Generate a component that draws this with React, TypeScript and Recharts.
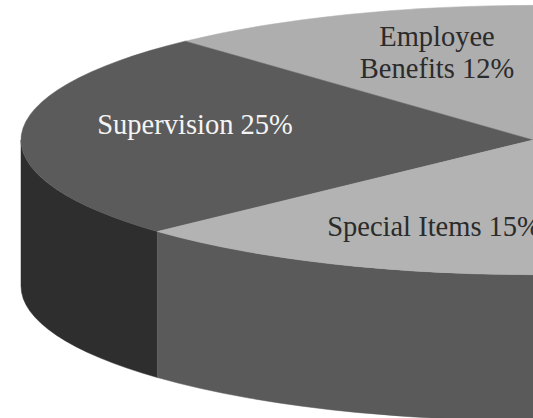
import { PieChart, Pie } from 'recharts';

const categories = ['Employee Benefits', 'Supervision', 'Special Items', 'Other'];
const shares = [12, 25, 15, 48];
const topColors = ['#aeaeae', '#5b5b5b', '#b3b3b3', '#b3b3b3'];
const wallColors = ['#5b5b5b', '#2e2e2e', '#5a5a5a', '#5a5a5a'];

// label lines per slice, the last slice runs off the page
const labelLines = [['Employee', 'Benefits 12%'], ['Supervision 25%'], ['Special Items 15%'], []];
const labelSpots = [
  { x: 437, y: 46, color: '#2b2b2b' },
  { x: 195, y: 134, color: '#f4f4f4' },
  { x: 434, y: 236, color: '#2b2b2b' },
  { x: 0, y: 0, color: '#000' },
];

const CX = 533;
const CY = 140;
const RX = 512;
const TILT = 134.7 / 512;
const DEPTH = 146;
const START = 89.6;

const topRows = categories.map((name, i) => ({ name, value: shares[i], fill: topColors[i] }));
const wallRows = categories.map((name, i) => ({ name, value: shares[i], fill: wallColors[i] }));

const point = (cx: number, cy: number, r: number, deg: number) => {
  const a = (deg * Math.PI) / 180;
  return [cx + r * Math.cos(a), cy - r * TILT * Math.sin(a)];
};

// Flattened slice
const TopSlice = (props: any) => {
  const { cx, cy, outerRadius: r, startAngle, endAngle, fill } = props;
  const [x0, y0] = point(cx, cy, r, startAngle);
  const [x1, y1] = point(cx, cy, r, endAngle);
  const large = Math.abs(endAngle - startAngle) > 180 ? 1 : 0;
  const d = `M${cx},${cy} L${x0},${y0} A${r},${r * TILT} 0 ${large} 0 ${x1},${y1} Z`;
  return <path d={d} fill={fill} stroke={fill} strokeWidth={0.5} />;
};

// Side wall, only the front half of the rim shows
const WallSlice = (props: any) => {
  const { cx, cy, outerRadius: r, startAngle, endAngle, fill } = props;
  const from = Math.max(startAngle, 180);
  const to = Math.min(endAngle, 360);
  if (to <= from) return null;
  const [x0, y0] = point(cx, cy, r, from);
  const [x1, y1] = point(cx, cy, r, to);
  const ry = r * TILT;
  const d = `M${x0},${y0} A${r},${ry} 0 0 0 ${x1},${y1} L${x1},${y1 + DEPTH} A${r},${ry} 0 0 1 ${x0},${y0 + DEPTH} Z`;
  return <path d={d} fill={fill} stroke={fill} strokeWidth={0.5} />;
};

const renderLabel = ({ index }: any) => {
  const lines = labelLines[index];
  const spot = labelSpots[index];
  if (!lines.length) return null;
  return (
    <text
      key={index}
      textAnchor="middle"
      fontFamily="'Liberation Serif', serif"
      fontSize={28.5}
      fill={spot.color}
    >
      {lines.map((line, i) => (
        <tspan key={line} x={spot.x} y={spot.y + i * 32}>
          {line}
        </tspan>
      ))}
    </text>
  );
};

export default function App() {
  return (
    <div style={{ position: 'absolute', left: 0, top: 0, width: 533, height: 418, overflow: 'hidden', background: '#fff' }}>
      <PieChart width={533} height={418} margin={{ top: 0, right: 0, bottom: 0, left: 0 }}>
        <Pie
          data={wallRows}
          dataKey="value"
          nameKey="name"
          cx={CX}
          cy={CY}
          outerRadius={RX}
          startAngle={START}
          endAngle={START + 360}
          shape={WallSlice}
          isAnimationActive={false}
        />
        <Pie
          data={topRows}
          dataKey="value"
          nameKey="name"
          cx={CX}
          cy={CY}
          outerRadius={RX}
          startAngle={START}
          endAngle={START + 360}
          shape={TopSlice}
          label={renderLabel}
          labelLine={false}
          isAnimationActive={false}
        />
      </PieChart>
    </div>
  );
}
